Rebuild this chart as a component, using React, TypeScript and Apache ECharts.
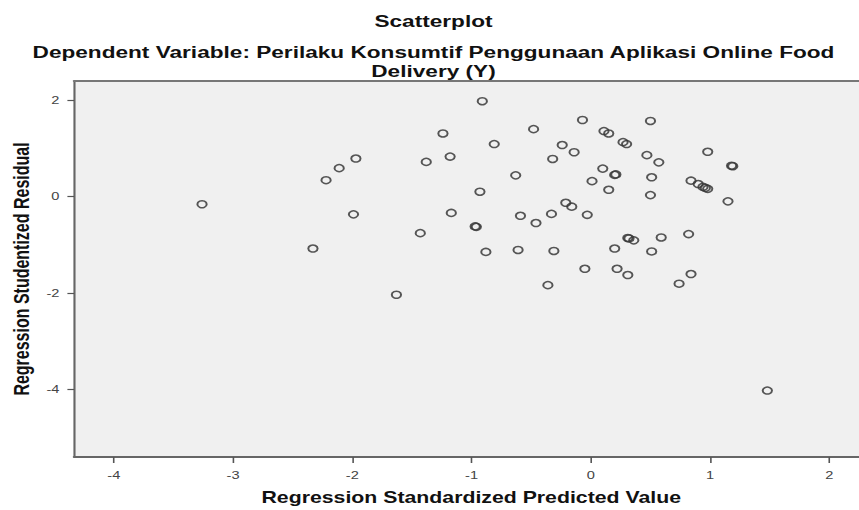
import React, { useEffect, useRef } from "react";
import * as echarts from "echarts";

const predicted: number[] = [
  -3.26, -2.33, -2.22, -2.11, -1.97, -1.99, -1.63, -1.43, -1.38, -1.24,
  -1.18, -1.17, -0.91, -0.81, -0.48, -0.07, 0.5, 0.11, 0.15, 0.27,
  0.3, -0.24, -0.14, -0.32, 0.47, 0.57, 0.98, -0.63, 0.1, 0.2,
  0.21, 0.01, 0.51, 0.15, 0.5, -0.93, 0.84, 0.9, 0.94, 0.96,
  0.98, -0.97, -0.96, -0.88, -0.59, -0.46, -0.33, -0.61, -0.31, -0.21,
  -0.16, -0.03, -0.36, -0.05, 0.2, 0.22, 0.31, 0.31, 0.32, 0.36,
  0.59, 0.51, 0.82, 0.84, 0.74, 1.18, 1.19, 1.15, 1.48,
];
const residual: number[] = [
  -0.16, -1.08, 0.34, 0.59, 0.79, -0.37, -2.04, -0.76, 0.72, 1.31,
  0.83, -0.34, 1.98, 1.09, 1.4, 1.59, 1.57, 1.36, 1.31, 1.13,
  1.09, 1.07, 0.92, 0.78, 0.86, 0.71, 0.93, 0.44, 0.58, 0.45,
  0.46, 0.32, 0.4, 0.14, 0.03, 0.1, 0.33, 0.26, 0.2, 0.18,
  0.16, -0.62, -0.63, -1.15, -0.4, -0.55, -0.36, -1.11, -1.13, -0.13,
  -0.21, -0.38, -1.84, -1.5, -1.08, -1.5, -1.63, -0.86, -0.87, -0.91,
  -0.85, -1.14, -0.78, -1.61, -1.81, 0.64, 0.63, -0.1, -4.03,
];
const xTicks: number[] = [-4, -3, -2, -1, 0, 1, 2];
const yTicks: number[] = [2, 0, -2, -4];

const titleText = "Scatterplot";
const subtitleLine1 =
  "Dependent Variable: Perilaku Konsumtif Penggunaan Aplikasi Online Food";
const subtitleLine2 = "Delivery (Y)";
const xName = "Regression Standardized Predicted Value";
const yName = "Regression Studentized Residual";

// the reference picture is stretched horizontally; reproduce it with a CSS scaleX
const STRETCH = 1.33;
const PAGE_W = 859;
const CHART_W = PAGE_W / STRETCH;

export default function App() {
  const ref = useRef<HTMLDivElement>(null);
  useEffect(() => {
    if (!ref.current) return;
    const chart = echarts.init(ref.current, undefined, { renderer: "svg" });
    const points = predicted.map((x, i) => [x, residual[i]]);
    const font = "'Liberation Sans', Arial, sans-serif";
    const cx = 433.5 / STRETCH;
    const textEl = (text: string, y: number, size: number) => ({
      type: "text",
      x: cx,
      y,
      style: {
        text,
        fill: "#111",
        fontFamily: font,
        fontSize: size,
        fontWeight: "bold",
        align: "center",
        verticalAlign: "middle",
        textAlign: "center",
        textVerticalAlign: "middle",
      },
    });
    const xMin = -4.333;
    const xMax = 2.25;
    chart.setOption({
      animation: false,
      backgroundColor: "#ffffff",
      graphic: [
        textEl(titleText, 21, 17),
        textEl(subtitleLine1, 52, 17),
        textEl(subtitleLine2, 71.5, 17),
      ],
      grid: {
        left: 69 / STRETCH,
        right: 0,
        top: 81,
        bottom: 50,
        show: true,
        backgroundColor: "#f0f0f0",
        borderWidth: 0,
      },
      xAxis: [
        {
          type: "value",
          min: xMin,
          max: xMax,
          name: xName,
          nameLocation: "middle",
          nameGap: 32,
          nameTextStyle: {
            fontFamily: font,
            fontSize: 16,
            fontWeight: "bold",
            color: "#111",
            padding: [0, 0, 0, 7],
          },
          splitLine: { show: false },
          axisLine: { show: true, onZero: false, lineStyle: { color: "#666", width: 2 } },
          axisTick: { show: true, customValues: xTicks, length: 6, lineStyle: { color: "#555", width: 1.2 } },
          axisLabel: {
            customValues: xTicks,
            fontFamily: font,
            fontSize: 11,
            color: "#444",
            margin: 13,
          },
        },
        {
          type: "value",
          position: "top",
          min: xMin,
          max: xMax,
          splitLine: { show: false },
          axisLine: { show: true, onZero: false, lineStyle: { color: "#777", width: 2 } },
          axisTick: { show: false },
          axisLabel: { show: false },
        },
      ],
      yAxis: {
        type: "value",
        min: -5.41,
        max: 2.4,
        name: yName,
        nameLocation: "middle",
        nameGap: 30,
        nameTextStyle: { fontFamily: font, fontSize: 16, fontWeight: "bold", color: "#111" },
        splitLine: { show: false },
        axisLine: { show: true, onZero: false, lineStyle: { color: "#666", width: 1.6 } },
        axisTick: { show: true, customValues: yTicks, length: 5, lineStyle: { color: "#555", width: 1.2 } },
        axisLabel: {
          customValues: yTicks,
          fontFamily: font,
          fontSize: 11,
          color: "#444",
          margin: 11,
        },
      },
      series: [
        {
          type: "scatter",
          xAxisIndex: 0,
          data: points,
          symbol: "circle",
          symbolSize: 7,
          itemStyle: {
            color: "rgba(0,0,0,0)",
            borderColor: "#3a3a3a",
            borderWidth: 1.5,
            opacity: 0.85,
          },
        },
      ],
    });
    return () => chart.dispose();
  }, []);
  return (
    <div
      ref={ref}
      style={{
        position: "fixed",
        left: 0,
        top: 0,
        width: CHART_W,
        height: 510,
        transform: `scaleX(${STRETCH})`,
        transformOrigin: "0 0",
      }}
    />
  );
}
